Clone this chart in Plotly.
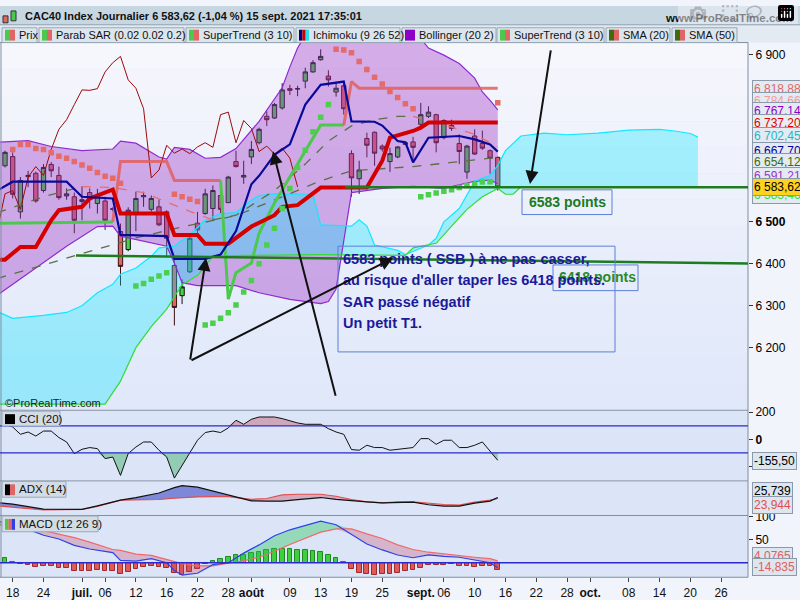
import plotly.graph_objects as go

W, H = 800, 600
def PX(x): return x / W
def PY(y): return 1 - y / H

FONT = "Liberation Sans, Arial, sans-serif"

# ---------------- DATA ----------------
# bar index 0 = 18 June 2021 (trading days)
bars = list(range(-1, 64))
opens = [6634,6656,6524,6608,6616,6575,6637,6611,6562,6560,6549,6570,6544,6550,6532,6477,6434,6522,6560,6530,6536,6524,6396,6324,6381,6497,6520,6532,6563,6546,6644,6607,6655,6689,6752,6748,6772,6818,6817,6836,6858,6887,6848,6810,6825,6663,6603,6699,6714,6681,6644,6655,6685,6691,6733,6752,6756,6701,6730,6687,6619,6705,6687,6670,6654]
highs = [6670,6666,6607,6622,6620,6638,6643,6632,6580,6570,6585,6580,6579,6560,6535,6496,6535,6572,6572,6563,6554,6528,6418,6363,6465,6524,6579,6587,6580,6610,6670,6646,6693,6725,6764,6784,6831,6827,6825,6868,6886,6912,6862,6831,6830,6671,6646,6713,6716,6685,6677,6681,6692,6703,6784,6776,6758,6745,6744,6709,6684,6721,6718,6673,6656]
lows = [6630,6556,6508,6583,6546,6570,6607,6553,6553,6473,6504,6532,6520,6481,6525,6348,6430,6478,6536,6525,6490,6419,6253,6304,6378,6473,6517,6504,6520,6545,6630,6591,6638,6685,6729,6746,6768,6803,6800,6819,6856,6885,6823,6799,6756,6560,6567,6654,6634,6668,6619,6652,6684,6642,6721,6748,6666,6697,6717,6638,6603,6660,6672,6615,6575]
closes = [6666,6566,6599,6611,6550,6630,6622,6558,6567,6504,6553,6553,6560,6504,6530,6394,6528,6556,6563,6556,6493,6461,6296,6345,6461,6481,6567,6575,6530,6607,6632,6611,6673,6721,6744,6780,6815,6814,6818,6858,6880,6895,6839,6819,6770,6605,6624,6683,6664,6674,6663,6679,6689,6678,6756,6762,6689,6742,6723,6668,6681,6662,6676,6652,6583.62]

tick_bars = [0,4,9,12,16,20,24,28,31,36,40,44,48,53,56,60,64,68,72,75,80,84,88,92]
tick_labels = ['18','24','juil.','06','12','16','22','28','août','09','13','19','25','sept.','06','10','16','22','28','oct.','08','14','20','26']
month_labels = ['juil.','août','sept.','oct.']

# Bollinger (20,2)
bbu_bar = [-2,0,2,5,9,13,14,16,19,20,21,23,25,27,29,32,35,36,37,38,40,44,48,52,54,56,58,60,61,62,63]
bbu_val = [6690,6692,6694,6680,6670,6674,6693,6688,6655,6650,6678,6673,6652,6654,6675,6740,6820,6870,6915,6945,6965,6990,6980,6960,6915,6898,6878,6843,6810,6790,6767.14]
bbl_bar = [-2,3,7,11,13,14,20,21,22,24,29,32,36,40,41,42,43,44,48,52,56,60,62,63]
bbl_val = [6325,6390,6442,6489,6490,6466,6442,6402,6355,6348,6348,6331,6315,6305,6310,6340,6450,6570,6580,6585,6580,6597,6600,6591.21]

# Ichimoku (9 26 52)
tenkan_bar = [-2,0,7,9,13,14,20,21,25,27,29,31,32,34,36,38,40,43,44,47,48,50,51,52,54,58,60,62,63]
tenkan_val = [6575,6596,6596,6560,6556,6469,6466,6412,6412,6422,6478,6590,6610,6660,6685,6780,6827,6835,6740,6739,6730,6693,6690,6642,6701,6705,6697,6685,6667.7]
kijun_bar = [-2,-1,1,3,5,6,9,10,13,14,20,21,24,25,28,29,31,34,35,37,40,46,48,49,52,53,54,63]
kijun_val = [6410,6410,6440,6440,6504,6528,6536,6556,6577,6520,6520,6469,6469,6448,6448,6461,6489,6516,6536,6540,6582,6582,6646,6701,6717,6725,6737,6737.2]
ssa_bar = [-2,0,4,7,9,11,13,14,16,18,19,21,23,25,27,29,31,32,34,36,39,40,44,45,46,47,50,51,52,54,55,56,58,60,62,63,64,66,69,72,76,80,84,86,88,89]
ssa_val = [6286,6270,6277,6284,6300,6331,6351,6375,6390,6418,6438,6442,6470,6504,6520,6522,6552,6563,6567,6566,6566,6493,6490,6505,6490,6445,6432,6422,6430,6445,6461,6500,6532,6597,6611,6635,6670,6705,6712,6708,6712,6719,6721,6717,6711,6702.45]
ssb_bar = [-2,12,14,16,18,20,22,24,26,30,40,51,52,55,57,59,61,63,64,65,66,89]
ssb_val = [6065,6065,6120,6200,6250,6292,6350,6372,6418,6420,6422,6420,6438,6449,6490,6530,6560,6580,6566,6566,6583,6583.46]

# Parabolic SAR (0.02 0.02 0.2); 1 = above price
sar_bar = list(range(0, 15)) + list(range(16, 64))
sar_val = [6673,6685,6685,6675,6673,6665,6657,6652,6644,6636,6628,6618,6609,6604,6592,
           6347,6353,6363,6371,6379,
           6566,6560,6554,6549,
           6254,6258,6270,6283,6302,6333,6360,6400,6445,6485,6532,6580,6630,6671,6715,6750,6780,
           6912,6910,6904,6883,6864,6845,6829,6811,6797,6782,6770,
           6560,6565,6569,6573,6577,6582,6587,6589,6595,6596,
           6784.66]
sar_above = [1]*15 + [0]*5 + [1]*4 + [0]*17 + [1]*11 + [0]*10 + [1]

# SuperTrend (3 10); 1 = bearish
st_bar = [-2,13,14,20,21,27,28,29,31,32,34,36,38,40,43,44,45,63]
st_val = [6497,6500,6644,6644,6599,6599,6316,6379,6402,6473,6545,6607,6670,6731,6731,6835,6819,6818.88]
st_bear = [0,0,1,1,1,1,0,0,0,0,0,0,0,0,0,1,1,1]

# SMA
sma20_bar = [-2,4,9,13,17,20,23,26,29,34,38,41,44,47,50,52,55,60,63]
sma20_val = [6522,6560,6584,6582,6570,6548,6525,6505,6516,6575,6638,6693,6729,6744,6752,6752,6737,6709,6679]
sma50_bar = [-2,8,16,22,29,35,40,44,52,57,63]
sma50_val = [6365,6418,6462,6488,6515,6560,6598,6622,6632,6642,6654.12]

# CCI (20)
cci = [111,91,37,54,24,61,61,13,-20,-106,-74,-61,-69,-143,-131,-267,-106,-57,-20,-20,-81,-131,-287,-193,-94,-7,50,61,50,84,141,111,148,165,165,165,153,136,121,111,111,111,79,54,37,-76,-81,-44,-61,-61,-81,-74,-65,-61,5,5,-37,-7,-7,-61,-61,-44,-20,-87,-155.5]

# ADX (14)
adx_bar = [-2,0,4,9,11,14,16,19,21,22,24,26,28,31,33,35,37,40,42,44,46,48,50,52,54,56,58,60,62,63]
adx_black = [16.5,13.7,4.5,4.1,10.5,20.9,25.5,34.0,43.7,47.3,44.5,37.5,29.5,19.6,19.1,19.1,22.0,25.7,22.3,19.5,17.8,16.0,17.3,17.3,12.5,10.1,10.1,15.5,19.1,25.739]
adx_red = [10.5,7.7,3.0,4.1,9.5,20.9,20.9,22.1,24.5,25.7,26.8,27.5,27.5,22.5,23.9,30.5,31.7,31.7,28.0,22.1,17.8,16.0,17.8,17.8,15.0,13.0,11.9,17.3,20.9,23.944]

# MACD (12 26 9)
macd_bar = [-2,0,2,4,6,8,10,12,13,14,16,18,20,21,22,24,26,28,30,32,34,36,38,40,42,44,46,48,50,52,54,56,58,60,62,63]
macd_line = [92,80,73,60,52,38,30,24,22,5,3.5,9,0,-17,-27,-23,-4,0,21,39,59,72,82,91,83,62,41,28,17,11,17,14,12,6,0,-10.76]
macd_signal = [84,78,78,70,63,55,45,35,29,27,19,16,7,4,-2,-7,-7,-1,4,12,25,40,54,67,74,74,63,53,39,29,23,19,16,12,9,4.0765]
macd_hist = [9.4,2.2,-2.2,-5,-9.4,-7.2,-7.2,-10.8,-12.2,-18,-18,-18,-16.6,-18,-18,-25,-19.4,-13,-8.6,-7.2,-9.4,-10.8,-21.6,-26.6,-19.4,-13,-2.2,3.6,7.2,13,18,18,22.3,24.5,28.8,31,31,31,28.8,28.8,26.6,23.8,18,11.5,2.2,-13,-21.6,-23.8,-26.6,-23.8,-23.8,-22,-18,-16.6,-10.8,-5,-5.8,-5,-2.2,-7.2,-7.2,-8.6,-8,-8,-14.835]

# ---------------- FIGURE ----------------
fig = go.Figure()
XR = [-1.65, 95.5]

def seg_traces(xs, ys, states, colors, width, dash=None, xa='x', ya='y'):
    out = []
    cur = None
    for j in range(1, len(xs)):
        c = colors[states[j]]
        if cur is None or cur['c'] != c:
            if cur: out.append(cur)
            cur = {'c': c, 'x': [xs[j-1]], 'y': [ys[j-1]]}
        cur['x'].append(xs[j]); cur['y'].append(ys[j])
    if cur: out.append(cur)
    for s in out:
        fig.add_trace(go.Scatter(x=s['x'], y=s['y'], mode='lines', xaxis=xa, yaxis=ya,
                                 line=dict(color=s['c'], width=width, dash=dash), hoverinfo='skip'))

fig.add_trace(go.Scatter(x=bbu_bar + bbl_bar[::-1], y=bbu_val + bbl_val[::-1], fill='toself',
                         fillcolor='rgba(160,60,200,0.40)', line=dict(width=0), mode='lines', hoverinfo='skip'))
fig.add_trace(go.Scatter(x=ssa_bar + ssb_bar[::-1], y=ssa_val + ssb_val[::-1], fill='toself',
                         fillcolor='rgba(0,230,255,0.32)', line=dict(width=0), mode='lines', hoverinfo='skip'))
for bx, bv in [(bbu_bar, bbu_val), (bbl_bar, bbl_val)]:
    fig.add_trace(go.Scatter(x=bx, y=bv, mode='lines', line=dict(color='#8E2BD0', width=1.2), hoverinfo='skip'))
fig.add_trace(go.Scatter(x=ssa_bar, y=ssa_val, mode='lines', line=dict(color='#10E8FF', width=1.2), hoverinfo='skip'))
fig.add_trace(go.Scatter(x=ssb_bar, y=ssb_val, mode='lines', line=dict(color='#33DD33', width=1.2), hoverinfo='skip'))
ch_x = [b - 26 for b in bars if b >= 24]
ch_y = [c for b, c in zip(bars, closes) if b >= 24]
fig.add_trace(go.Scatter(x=ch_x, y=ch_y, mode='lines', line=dict(color='#9A0A0A', width=1), hoverinfo='skip'))
def slope_states(v):
    return [0] + [0 if v[j] >= v[j-1] else 1 for j in range(1, len(v))]
seg_traces(sma50_bar, sma50_val, slope_states(sma50_val), ['#5E6E45', '#E07070'], 1.3, dash='dash')
seg_traces(sma20_bar, sma20_val, slope_states(sma20_val), ['#5E6E45', '#E07070'], 1.3, dash='dash')
seg_traces(st_bar, st_val, st_bear, ['#4CC84C', 'rgba(225,95,95,0.85)'], 3)
fig.add_trace(go.Scatter(x=kijun_bar, y=kijun_val, mode='lines', line=dict(color='#D40000', width=4), hoverinfo='skip'))
fig.add_trace(go.Scatter(x=tenkan_bar, y=tenkan_val, mode='lines', line=dict(color='#0A0A9A', width=2.2), hoverinfo='skip'))
fig.add_trace(go.Candlestick(x=bars, open=opens, high=highs, low=lows, close=closes,
                             increasing=dict(line=dict(color='#101010', width=1), fillcolor='#44D444'),
                             decreasing=dict(line=dict(color='#3A1010', width=1), fillcolor='#E06464'),
                             whiskerwidth=0, hoverinfo='skip'))
fig.add_trace(go.Scatter(x=sar_bar, y=sar_val, mode='markers',
                         marker=dict(symbol='square', size=5.5,
                                     color=['#E56A6A' if a else '#4CCF4C' for a in sar_above]),
                         hoverinfo='skip'))

# CCI
fig.add_trace(go.Scatter(x=bars, y=[100]*len(bars), xaxis='x2', yaxis='y2', mode='lines', line=dict(width=0), hoverinfo='skip'))
fig.add_trace(go.Scatter(x=bars, y=[max(v, 100) for v in cci], xaxis='x2', yaxis='y2', mode='lines', line=dict(width=0),
                         fill='tonexty', fillcolor='rgba(190,90,110,0.45)', hoverinfo='skip'))
fig.add_trace(go.Scatter(x=bars, y=[-100]*len(bars), xaxis='x2', yaxis='y2', mode='lines', line=dict(width=0), hoverinfo='skip'))
fig.add_trace(go.Scatter(x=bars, y=[min(v, -100) for v in cci], xaxis='x2', yaxis='y2', mode='lines', line=dict(width=0),
                         fill='tonexty', fillcolor='rgba(60,170,100,0.45)', hoverinfo='skip'))
fig.add_trace(go.Scatter(x=bars, y=cci, xaxis='x2', yaxis='y2', mode='lines', line=dict(color='#111', width=1), hoverinfo='skip'))

# ADX
fig.add_trace(go.Scatter(x=adx_bar, y=adx_red, xaxis='x3', yaxis='y3', mode='lines', line=dict(width=0), hoverinfo='skip'))
fig.add_trace(go.Scatter(x=adx_bar, y=[max(a, b) for a, b in zip(adx_black, adx_red)], xaxis='x3', yaxis='y3', mode='lines',
                         line=dict(width=0), fill='tonexty', fillcolor='rgba(50,60,190,0.55)', hoverinfo='skip'))
fig.add_trace(go.Scatter(x=adx_bar, y=adx_red, xaxis='x3', yaxis='y3', mode='lines', line=dict(width=0), hoverinfo='skip'))
fig.add_trace(go.Scatter(x=adx_bar, y=[min(a, b) for a, b in zip(adx_black, adx_red)], xaxis='x3', yaxis='y3', mode='lines',
                         line=dict(width=0), fill='tonexty', fillcolor='rgba(200,80,100,0.40)', hoverinfo='skip'))
fig.add_trace(go.Scatter(x=adx_bar, y=adx_red, xaxis='x3', yaxis='y3', mode='lines', line=dict(color='#E05050', width=1.2), hoverinfo='skip'))
fig.add_trace(go.Scatter(x=adx_bar, y=adx_black, xaxis='x3', yaxis='y3', mode='lines', line=dict(color='#111', width=1.2), hoverinfo='skip'))

# MACD
fig.add_trace(go.Bar(x=bars, y=macd_hist, xaxis='x4', yaxis='y4', width=0.62,
                     marker=dict(color=['#3ECF3E' if v >= 0 else '#E05A5A' for v in macd_hist],
                                 line=dict(color=['#1E8A1E' if v >= 0 else '#A02828' for v in macd_hist], width=1)),
                     hoverinfo='skip'))
fig.add_trace(go.Scatter(x=macd_bar, y=macd_signal, xaxis='x4', yaxis='y4', mode='lines', line=dict(width=0), hoverinfo='skip'))
fig.add_trace(go.Scatter(x=macd_bar, y=[max(a, b) for a, b in zip(macd_line, macd_signal)], xaxis='x4', yaxis='y4', mode='lines',
                         line=dict(width=0), fill='tonexty', fillcolor='rgba(40,200,90,0.40)', hoverinfo='skip'))
fig.add_trace(go.Scatter(x=macd_bar, y=macd_signal, xaxis='x4', yaxis='y4', mode='lines', line=dict(width=0), hoverinfo='skip'))
fig.add_trace(go.Scatter(x=macd_bar, y=[min(a, b) for a, b in zip(macd_line, macd_signal)], xaxis='x4', yaxis='y4', mode='lines',
                         line=dict(width=0), fill='tonexty', fillcolor='rgba(200,70,100,0.30)', hoverinfo='skip'))
fig.add_trace(go.Scatter(x=macd_bar, y=macd_signal, xaxis='x4', yaxis='y4', mode='lines', line=dict(color='#EE6A6A', width=1.2), hoverinfo='skip'))
fig.add_trace(go.Scatter(x=macd_bar, y=macd_line, xaxis='x4', yaxis='y4', mode='lines', line=dict(color='#3040E8', width=1.2), hoverinfo='skip'))

# ---------------- LAYOUT ----------------
XD = [0, PX(748)]
axis_common = dict(showgrid=False, zeroline=False, fixedrange=True)
ticktext = ['<b>%s</b>' % t if t in month_labels else t for t in tick_labels]
fig.update_layout(
    width=W, height=H, margin=dict(l=0, r=0, t=0, b=0),
    paper_bgcolor='#F1F4FA', plot_bgcolor='#DCE5F8', showlegend=False,
    font=dict(family=FONT, size=12, color='#000'),
    xaxis=dict(domain=XD, range=XR, showticklabels=False, rangeslider=dict(visible=False), anchor='y', **axis_common),
    xaxis2=dict(domain=XD, range=XR, matches='x', showticklabels=False, anchor='y2', **axis_common),
    xaxis3=dict(domain=XD, range=XR, matches='x', showticklabels=False, anchor='y3', **axis_common),
    xaxis4=dict(domain=XD, range=XR, matches='x', anchor='y4', tickvals=tick_bars, ticktext=ticktext,
                ticks='outside', ticklen=4, tickcolor='#444', tickfont=dict(size=12, color='#111'), **axis_common),
    yaxis=dict(domain=[PY(408), PY(37)], range=[6053, 6928], side='right', anchor='x',
               tickvals=[6200, 6300, 6400, 6500, 6900],
               ticktext=['6 200', '6 300', '6 400', '<b>6 500</b>', '6 900'],
               ticks='outside', ticklen=4, tickcolor='#333', tickfont=dict(size=12), **axis_common),
    yaxis2=dict(domain=[PY(480), PY(409)], range=[-304, 215], side='right', anchor='x2',
                tickvals=[200, 0, -200], ticktext=['200', '<b>0</b>', ''],
                ticks='outside', ticklen=4, tickcolor='#333', tickfont=dict(size=12), **axis_common),
    yaxis3=dict(domain=[PY(515), PY(481)], range=[-6.1, 55.1], side='right', anchor='x3',
                showticklabels=False, **axis_common),
    yaxis4=dict(domain=[PY(578), PY(516)], range=[-31.7, 102.2], side='right', anchor='x4',
                tickvals=[100, 50], ticks='outside', ticklen=4, tickcolor='#333', tickfont=dict(size=12), **axis_common),
    bargap=0, boxgap=0.2,
)

shapes = []
top, bot = 37, 408
nb = 14
for i in range(nb):
    y0 = top + (bot - top) * i / nb
    y1 = top + (bot - top) * (i + 1) / nb
    t = i / (nb - 1)
    r = int(246 - t * 22); g = int(247 - t * 15); b = int(253 - t * 3)
    shapes.append(dict(type='rect', xref='paper', yref='paper', x0=0, x1=PX(748), y0=PY(y1), y1=PY(y0),
                       fillcolor='rgb(%d,%d,%d)' % (r, g, b), line=dict(width=0), layer='below'))
shapes.append(dict(type='rect', xref='paper', yref='paper', x0=0, x1=1, y0=PY(19), y1=1,
                   fillcolor='#C7D7E2', line=dict(width=0), layer='below'))
shapes.append(dict(type='rect', xref='paper', yref='paper', x0=0, x1=1, y0=PY(37), y1=PY(19),
                   fillcolor='#E3EAF1', line=dict(width=0), layer='below'))
shapes.append(dict(type='line', xref='paper', yref='paper', x0=0, x1=1, y0=PY(19), y1=PY(19),
                   line=dict(color='#8DA0B0', width=1)))
for y in [37, 409, 480.5, 515.5, 578]:
    shapes.append(dict(type='line', xref='paper', yref='paper', x0=0, x1=PX(748), y0=PY(y), y1=PY(y),
                       line=dict(color='#7F8FA0', width=1)))
shapes.append(dict(type='line', xref='paper', yref='paper', x0=PX(748), x1=PX(748), y0=PY(578), y1=PY(37),
                   line=dict(color='#7F8FA0', width=1)))
shapes.append(dict(type='line', xref='paper', yref='paper', x0=PX(1), x1=PX(1), y0=PY(578), y1=PY(37),
                   line=dict(color='#7F8FA0', width=1)))
for v in [100, -100]:
    shapes.append(dict(type='line', xref='paper', yref='y2', x0=0, x1=PX(748), y0=v, y1=v,
                       line=dict(color='#2A2ACF', width=1.3)))
shapes.append(dict(type='line', xref='paper', yref='y4', x0=0, x1=PX(748), y0=0, y1=0,
                   line=dict(color='#2A2ACF', width=1.5)))
shapes.append(dict(type='line', xref='paper', yref='y', x0=PX(345), x1=PX(748), y0=6583, y1=6583,
                   line=dict(color='#1E7B1E', width=2.5)))
shapes.append(dict(type='line', xref='paper', yref='y', x0=PX(76), x1=PX(748), y0=6420, y1=6401,
                   line=dict(color='#1E7B1E', width=2.5)))

tabs = [("Prix", 2, 37, ['#4CC84C', '#E06666']),
        ("Parab SAR (0.02 0.02 0.2)", 39, 184, ['#4CC84C', '#E06666']),
        ("SuperTrend (3 10)", 186, 294, ['#4CC84C', '#E06666']),
        ("Ichimoku (9 26 52)", 296, 400, ['#000088', '#CC0000', '#22DDEE']),
        ("Bollinger (20 2)", 402, 496, ['#8E00C8']),
        ("SuperTrend (3 10)", 497, 604, ['#4CC84C', '#E06666']),
        ("SMA (20)", 606, 670, ['#3F6A10', '#E06666']),
        ("SMA (50)", 672, 737, ['#3F6A10', '#E06666'])]
annotations = []
for label, x0, x1, cols in tabs:
    shapes.append(dict(type='rect', xref='paper', yref='paper', x0=PX(x0), x1=PX(x1), y0=PY(37), y1=PY(22),
                       fillcolor='#DCE5EC', line=dict(color='#97A9B8', width=1)))
    wdt = 10 / len(cols)
    for k, c in enumerate(cols):
        shapes.append(dict(type='rect', xref='paper', yref='paper', x0=PX(x0 + 3 + k * wdt), x1=PX(x0 + 3 + (k + 1) * wdt),
                           y0=PY(35), y1=PY(24), fillcolor=c, line=dict(width=0)))
    annotations.append(dict(text=label, xref='paper', yref='paper', x=PX(x0 + 15), y=PY(29.5),
                            xanchor='left', yanchor='middle', showarrow=False, font=dict(size=11, color='#111')))

annotations.append(dict(text="<b>CAC40 Index Journalier 6 583,62 (-1,04 %) 15 sept. 2021 17:35:01</b>",
                        xref='paper', yref='paper', x=PX(23), y=PY(10), xanchor='left', yanchor='middle',
                        showarrow=False, font=dict(size=11, color='#111')))
annotations.append(dict(text="<b>www.ProRealTime.com</b>", xref='paper', yref='paper', x=PX(795), y=PY(12),
                        xanchor='right', yanchor='middle', showarrow=False, font=dict(size=11.5, color='#111')))
shapes.append(dict(type='rect', xref='paper', yref='paper', x0=PX(3), x1=PX(8), y0=PY(17), y1=PY(10),
                   fillcolor='#E06666', line=dict(color='#333', width=1)))
shapes.append(dict(type='rect', xref='paper', yref='paper', x0=PX(11), x1=PX(16), y0=PY(15), y1=PY(5),
                   fillcolor='#4CC84C', line=dict(color='#333', width=1)))
annotations.append(dict(text="©ProRealTime.com", xref='paper', yref='paper', x=PX(3), y=PY(402),
                        xanchor='left', yanchor='middle', showarrow=False, font=dict(size=11, color='#222')))

for label, y0, y1, x1, cols in [("CCI (20)", 410, 425, 60, ['#000000']),
                                 ("ADX (14)", 481, 497, 66, ['#000000', '#E06666']),
                                 ("MACD (12 26 9)", 516, 532, 98, ['#4CC84C', '#E06666', '#3040E8'])]:
    shapes.append(dict(type='rect', xref='paper', yref='paper', x0=PX(2), x1=PX(x1), y0=PY(y1), y1=PY(y0),
                       fillcolor='#D3DCE4', line=dict(color='#97A9B8', width=1)))
    wdt = 10 / len(cols)
    for k, c in enumerate(cols):
        shapes.append(dict(type='rect', xref='paper', yref='paper', x0=PX(5 + k * wdt), x1=PX(5 + (k + 1) * wdt),
                           y0=PY(y1 - 2), y1=PY(y0 + 3), fillcolor=c, line=dict(width=0)))
    annotations.append(dict(text=label, xref='paper', yref='paper', x=PX(17), y=PY((y0 + y1) / 2),
                            xanchor='left', yanchor='middle', showarrow=False, font=dict(size=11.5, color='#111')))

vlabels = [(84, "6 818,88", '#E06666', '#E4EAF2'),
           (96, "6 784,66", '#F09A9A', '#E4EAF2'), (106, "6 767,14", '#8E00C8', '#E4EAF2'),
           (118, "6 737,20", '#DD0000', '#E8EDF4'), (132, "6 702,45", '#20B8C8', '#E4EAF2'),
           (147, "6 667,70", '#000099', '#E4EAF2'),
           (158, "6 654,12", '#3F6A10', '#E4EAF2'), (191, "6 583,46", '#33DD33', '#E4EAF2'),
           (172, "6 591,21", '#9933CC', '#E4EAF2'), (183, "6 583,62", '#000000', '#FFD21F'),
           (460, "-155,50", '#000000', '#DDE5EE'), (491, "25,739", '#000000', '#DDE5EE'),
           (505, "23,944", '#E05050', '#DDE5EE'), (556, "4,0765", '#E06060', '#DDE5EE'),
           (568, "-14,835", '#E06060', '#DDE5EE')]
for y, t, c, bg in vlabels:
    annotations.append(dict(text=t, xref='paper', yref='paper', x=PX(752), y=PY(y), xanchor='left', yanchor='middle',
                            showarrow=False, font=dict(size=12, color=c), bgcolor=bg, bordercolor='#8A9AAA',
                            borderwidth=1, borderpad=1))

shapes.append(dict(type='rect', xref='paper', yref='paper', x0=PX(522), x1=PX(612), y0=PY(211), y1=PY(186),
                   line=dict(color='#5C7FD8', width=1), fillcolor='rgba(0,0,0,0)'))
annotations.append(dict(text="<b>6583 points</b>", xref='paper', yref='paper', x=PX(527), y=PY(198),
                        xanchor='left', yanchor='middle', showarrow=False, font=dict(size=14, color='#1E7B1E')))
shapes.append(dict(type='rect', xref='paper', yref='paper', x0=PX(553), x1=PX(638), y0=PY(288), y1=PY(262),
                   line=dict(color='#5C7FD8', width=1), fillcolor='rgba(0,0,0,0)'))
annotations.append(dict(text="<b>6418 points</b>", xref='paper', yref='paper', x=PX(557), y=PY(274),
                        xanchor='left', yanchor='middle', showarrow=False, font=dict(size=14, color='#2A8A2A')))
shapes.append(dict(type='rect', xref='paper', yref='paper', x0=PX(338), x1=PX(615), y0=PY(350), y1=PY(243),
                   line=dict(color='#5C7FD8', width=1), fillcolor='rgba(0,0,0,0)'))
for k, line in enumerate(["6583 points ( SSB ) à ne pas casser,", "au risque d'aller taper les 6418 points.",
                          "SAR passé négatif", "Un petit T1."]):
    annotations.append(dict(text="<b>%s</b>" % line, xref='paper', yref='paper', x=PX(341), y=PY(256 + k * 21.5),
                            xanchor='left', yanchor='middle', showarrow=False, font=dict(size=14.5, color='#1A1A9A')))
for hx, hy, tx, ty in [(273, 147, 336, 393), (206, 255, 190, 358), (393, 255, 190, 358), (530, 180, 551, 45)]:
    annotations.append(dict(text="", xref='paper', yref='paper', x=PX(hx), y=PY(hy), ax=tx - hx, ay=ty - hy,
                            showarrow=True, arrowhead=2, arrowsize=1.3, arrowwidth=2, arrowcolor='#111'))

fig.update_layout(shapes=shapes, annotations=annotations)
fig.write_html("out.html", post_script="document.body.style.margin='0';document.body.style.overflow='hidden';")
